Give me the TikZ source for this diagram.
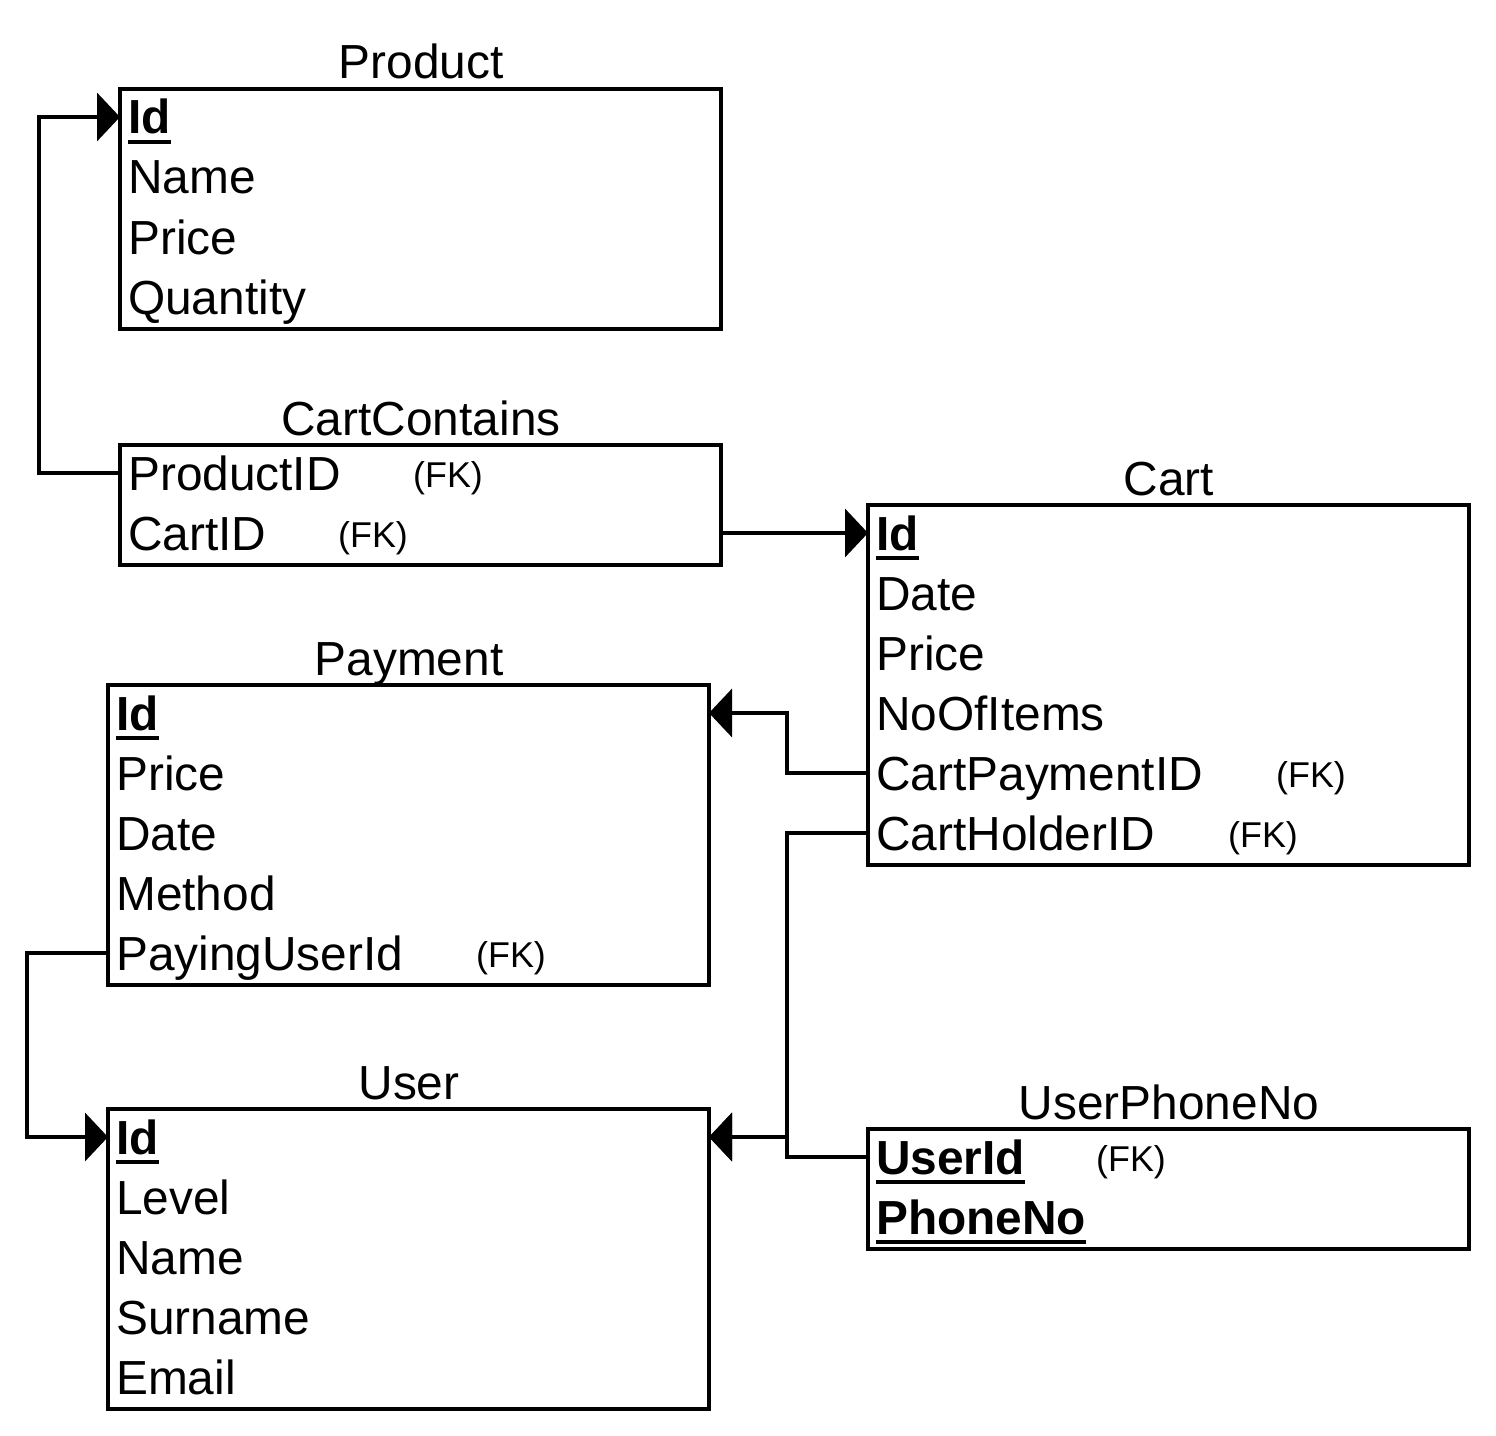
\documentclass[tikz,border=0pt]{standalone}
\usepackage{fontspec}
\setmainfont{Liberation Sans}
\usetikzlibrary{arrows.meta}
\begin{document}
\begin{tikzpicture}[x=1bp,y=-1bp,
  tbox/.style={draw, line width=3.8bp, anchor=north west, minimum width=601bp, inner sep=0pt, outer sep=0pt},
  ttl/.style={font=\fontsize{48}{58}\selectfont, anchor=base, inner sep=0pt},
  row/.style={font=\fontsize{48}{58}\selectfont, anchor=west, inner sep=0pt, text height=34bp, text depth=0pt},
  fk/.style={font=\fontsize{36}{43}\selectfont, anchor=base west, inner sep=0pt},
  conn/.style={line width=3.8bp, -{Triangle[length=23bp,width=48bp]}},
  uline/.style={line width=3.5bp}]
\fill[white] (0,0) rectangle (1496,1436);
\useasboundingbox (0,0) rectangle (1496,1436);

% Product
\node[tbox, minimum height=240bp] (p) at (120,89) {};
\node[ttl] (pt) at (421,79) {Product};
\node[row] (p1) at (128,117) {\bfseries Id};
\node[row] (p2) at (128,177) {Name};
\node[row] (p3) at (128,237) {Price};
\node[row] (p4) at (128,297) {Quantity};

% CartContains
\node[tbox, minimum height=120bp] (cc) at (120,445) {};
\node[ttl] (cct) at (421,435) {CartContains};
\node[row] (cc1) at (128,473) {ProductID};
\node[row] (cc2) at (128,533) {CartID};
\node[fk] (cc1fk) at (413,487) {(FK)};
\node[fk] (cc2fk) at (338,547) {(FK)};

% Cart
\node[tbox, minimum height=360bp] (c) at (868,505) {};
\node[ttl] (ct) at (1169,495) {Cart};
\node[row] (c1) at (876,533) {\bfseries Id};
\node[row] (c2) at (876,593) {Date};
\node[row] (c3) at (876,653) {Price};
\node[row] (c4) at (876,713) {NoOfItems};
\node[row] (c5) at (876,773) {CartPaymentID};
\node[row] (c6) at (876,833) {CartHolderID};
\node[fk] (c5fk) at (1276,787) {(FK)};
\node[fk] (c6fk) at (1228,847) {(FK)};

% Payment
\node[tbox, minimum height=300bp] (pay) at (108,685) {};
\node[ttl] (payt) at (409,675) {Payment};
\node[row] (pay1) at (116,713) {\bfseries Id};
\node[row] (pay2) at (116,773) {Price};
\node[row] (pay3) at (116,833) {Date};
\node[row] (pay4) at (116,893) {Method};
\node[row] (pay5) at (116,953) {PayingUserId};
\node[fk] (pay5fk) at (476,967) {(FK)};

% User
\node[tbox, minimum height=300bp] (u) at (108,1109) {};
\node[ttl] (ut) at (409,1099) {User};
\node[row] (u1) at (116,1137) {\bfseries Id};
\node[row] (u2) at (116,1197) {Level};
\node[row] (u3) at (116,1257) {Name};
\node[row] (u4) at (116,1317) {Surname};
\node[row] (u5) at (116,1377) {Email};

% UserPhoneNo
\node[tbox, minimum height=120bp] (ph) at (868,1129) {};
\node[ttl] (pht) at (1169,1119) {UserPhoneNo};
\node[row] (ph1) at (876,1157) {\bfseries UserId};
\node[row] (ph2) at (876,1217) {\bfseries PhoneNo};
\node[fk] (ph1fk) at (1096,1171) {(FK)};

% underlines for keys
\foreach \n in {p1,c1,pay1,u1,ph1,ph2}{
  \draw[uline] ([yshift=-8bp]\n.base west) -- ([yshift=-8bp]\n.base east);
}

% connectors
\draw[conn] (cc1.west -| cc.west) -- ++(-81,0) |- (p1.west -| p.west);
\draw[conn] (cc2.west -| cc.east) -- (c1.west -| c.west);
\draw[conn] (c5.west -| c.west) -- ++(-81,0) |- (pay1.west -| pay.east);
\draw[conn] (c6.west -| c.west) -- ++(-81,0) |- (u1.west -| u.east);
\draw[conn] (ph1.west -| ph.west) -- ++(-81,0) |- (u1.west -| u.east);
\draw[conn] (pay5.west -| pay.west) -- ++(-81,0) |- (u1.west -| u.west);
\end{tikzpicture}
\end{document}
